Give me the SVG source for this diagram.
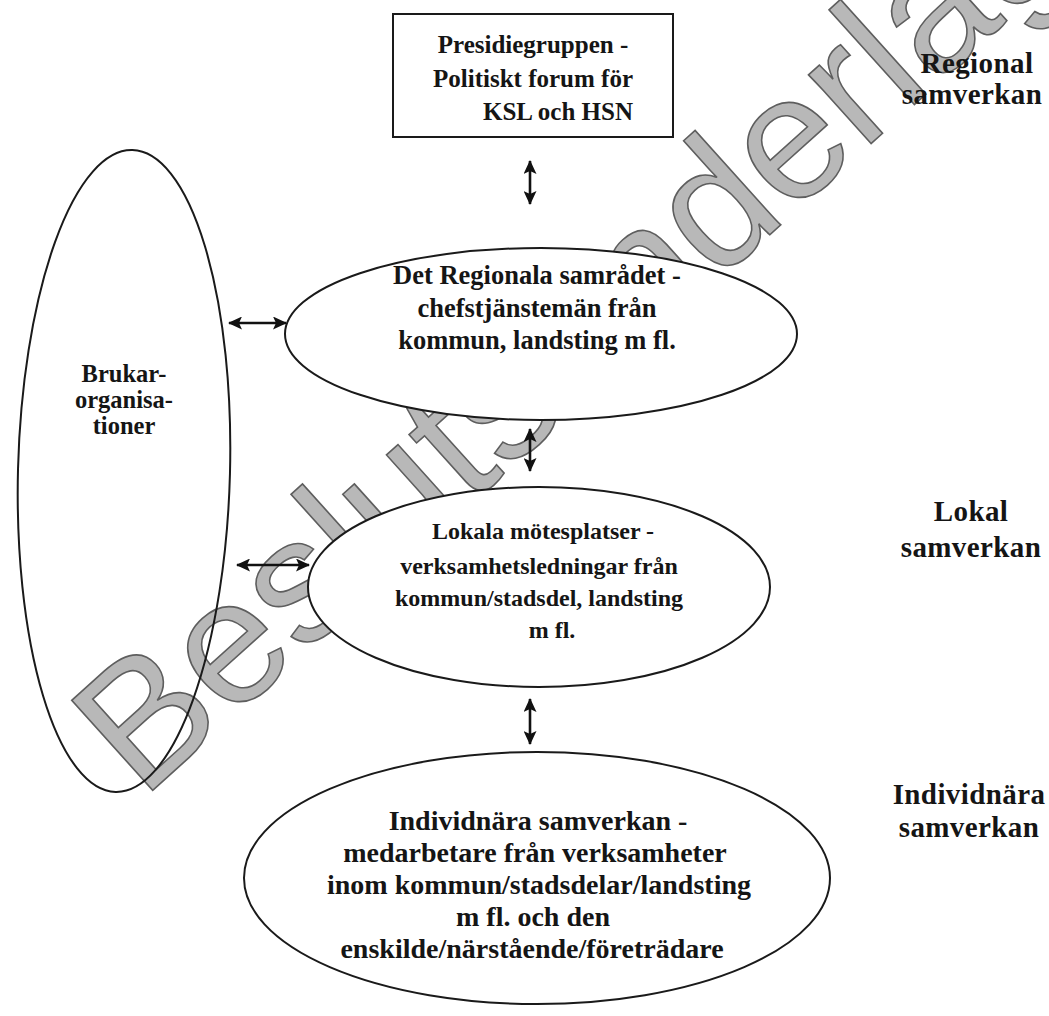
<svg xmlns="http://www.w3.org/2000/svg" width="1049" height="1016" viewBox="0 0 1049 1016">
<defs>
<marker id="ah" viewBox="0 0 14 13" refX="13" refY="6.5" markerWidth="14" markerHeight="13" markerUnits="userSpaceOnUse" orient="auto-start-reverse"><path d="M0,0 L14,6.5 L0,13 L3,6.5 z" fill="#111"/></marker>
<style>
.t{font-family:"Liberation Serif","Times New Roman",serif;font-weight:bold;fill:#151515;text-anchor:middle;font-size:26px}
.bx{font-size:25px}
.e1{font-size:26.5px}
.e2{font-size:24px}
.e3{font-size:28px}
.br{font-size:24.5px}
.side{font-size:29px;letter-spacing:0.4px}
.shape{fill:#fff;stroke:#1a1a1a;stroke-width:2}
.conn{stroke:#111;stroke-width:2.6;fill:none;marker-start:url(#ah);marker-end:url(#ah)}
.wm{font-family:"Liberation Sans",Arial,sans-serif;font-size:176px;fill:#b8b8b8;stroke:#5e5e5e;stroke-width:1.6}
</style>
</defs>
<rect width="1049" height="1016" fill="#fff"/>
<g id="watermark">
<text class="wm" x="142" y="800" transform="rotate(-42 142 800)">Beslutsunderlag</text>
</g>
<g id="brukar">
<ellipse cx="124" cy="471" rx="106" ry="321" transform="rotate(1.5 124 471)" fill="none" stroke="#1a1a1a" stroke-width="2"/>
<text class="t br" x="124" y="382">Brukar-</text>
<text class="t br" x="124" y="408">organisa-</text>
<text class="t br" x="124" y="434">tioner</text>
</g>
<g id="presidiegruppen">
<rect class="shape" x="393" y="14" width="280" height="123"/>
<text class="t bx" x="533" y="53">Presidiegruppen -</text>
<text class="t bx" x="533" y="87">Politiskt forum för</text>
<text class="t bx" x="558" y="120">KSL och HSN</text>
</g>
<g id="regionala">
<ellipse class="shape" cx="541" cy="334" rx="256" ry="86"/>
<text class="t e1" x="537" y="284">Det Regionala samrådet -</text>
<text class="t e1" x="537" y="317">chefstjänstemän från</text>
<text class="t e1" x="537" y="349">kommun, landsting m fl.</text>
</g>
<g id="lokala">
<ellipse class="shape" cx="539" cy="587" rx="231" ry="100"/>
<text class="t e2" x="543" y="539">Lokala mötesplatser -</text>
<text class="t e2" x="539" y="574">verksamhetsledningar från</text>
<text class="t e2" x="539" y="606">kommun/stadsdel, landsting</text>
<text class="t e2" x="552" y="638">m fl.</text>
</g>
<g id="individnara">
<ellipse class="shape" cx="537" cy="878" rx="293" ry="126"/>
<text class="t e3" x="538" y="830">Individnära samverkan -</text>
<text class="t e3" x="535" y="862">medarbetare från verksamheter</text>
<text class="t e3" x="539" y="894">inom kommun/stadsdelar/landsting</text>
<text class="t e3" x="533" y="926">m fl. och den</text>
<text class="t e3" x="532" y="958">enskilde/närstående/företrädare</text>
</g>
<g id="labels">
<text class="t side" x="977" y="73">Regional</text>
<text class="t side" x="972" y="104">samverkan</text>
<text class="t side" x="971" y="521">Lokal</text>
<text class="t side" x="971" y="557">samverkan</text>
<text class="t side" x="969" y="804">Individnära</text>
<text class="t side" x="969" y="837">samverkan</text>
</g>
<g id="connectors">
<line class="conn" x1="530" y1="161" x2="530" y2="204"/>
<line class="conn" x1="530" y1="429" x2="530" y2="471"/>
<line class="conn" x1="530" y1="699" x2="530" y2="744"/>
<line class="conn" x1="229" y1="323" x2="286" y2="323"/>
<line class="conn" x1="237" y1="565" x2="309" y2="565"/>
</g>
</svg>
